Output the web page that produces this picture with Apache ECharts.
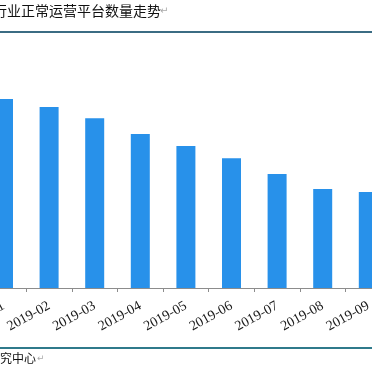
<!DOCTYPE html>
<html>
<head>
    <meta charset="utf-8">
    <style>
        html, body { margin: 0; padding: 0; background: #fff; }
        #main { width: 372px; height: 372px; }
    </style>
    <script src="https://cdn.jsdelivr.net/npm/echarts@6/dist/echarts.min.js"></script>
</head>
<body>
<div id="main"></div>
<script>
    // 月份
    var months = ['2019-01', '2019-02', '2019-03', '2019-04', '2019-05', '2019-06', '2019-07', '2019-08', '2019-09'];
    // 正常运营平台数量（估读）
    var platforms = [1021, 978, 918, 832, 767, 702, 616, 535, 519];

    var titleText = '行业正常运营平台数量走势';
    var sourceText = '究中心';

    var myChart = echarts.init(document.getElementById('main'));
    var option = {
        animation: false,
        grid: {
            left: -19.3,
            width: 410.4,
            top: 66,
            bottom: 84,
            outerBoundsMode: 'none'
        },
        xAxis: {
            type: 'category',
            data: months,
            axisLine: { lineStyle: { color: '#8c8c8c', width: 1 } },
            axisTick: { show: true, length: 4, lineStyle: { color: '#8c8c8c' } },
            axisLabel: {
                interval: 0,
                rotate: 29,
                margin: 17,
                color: '#1a1a1a',
                fontFamily: 'Liberation Serif',
                fontSize: 14
            }
        },
        yAxis: {
            type: 'value',
            show: false,
            min: 0,
            max: 1200
        },
        series: [{
            type: 'bar',
            data: platforms,
            barWidth: 19,
            itemStyle: { color: '#2891ea' }
        }],
        graphic: [
            // 标题
            {
                type: 'text', left: -7, top: 4,
                style: { text: titleText, font: '14px "Noto Sans CJK SC"', fill: '#111' }
            },
            {
                type: 'text', left: 160, top: 6,
                style: { text: '↵', font: '10px "DejaVu Sans"', fill: '#aaa' }
            },
            { type: 'rect', shape: { x: 0, y: 31, width: 372, height: 2 }, style: { fill: '#3b6c83' } },
            // 来源
            { type: 'rect', shape: { x: 0, y: 347, width: 372, height: 2 }, style: { fill: '#2f7a8b' } },
            {
                type: 'text', left: 0, top: 352,
                style: { text: sourceText, font: '12px "Noto Sans CJK SC"', fill: '#111' }
            },
            {
                type: 'text', left: 37, top: 354,
                style: { text: '↵', font: '9px "DejaVu Sans"', fill: '#aaa' }
            }
        ]
    };
    myChart.setOption(option);
</script>
</body>
</html>
